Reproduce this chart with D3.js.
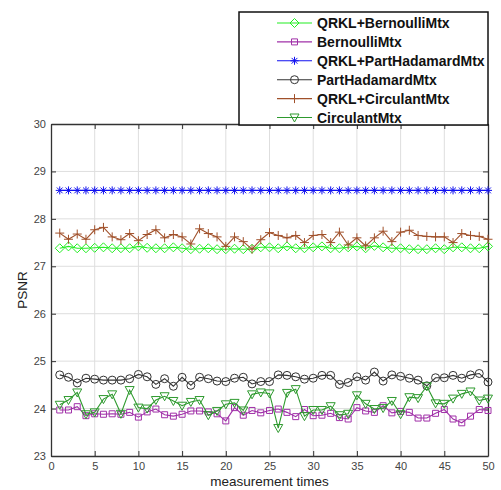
<!DOCTYPE html>
<html lang="en">
<head>
<meta charset="UTF-8">
<title>PSNR</title>
<script src="https://cdn.jsdelivr.net/npm/d3@7"></script>
<style>
  body { margin: 0; background: #fff; }
  text { font-family: "Liberation Sans", Arial, sans-serif; }
</style>
</head>
<body>
<script>
// measurement index 1..50
const times = d3.range(1, 51)

const qrklBernoulli = [27.38, 27.42, 27.38, 27.38, 27.39, 27.40, 27.38, 27.38, 27.38, 27.42,
  27.39, 27.38, 27.38, 27.40, 27.38, 27.36, 27.37, 27.38, 27.36, 27.36,
  27.37, 27.36, 27.37, 27.40, 27.40, 27.38, 27.42, 27.38, 27.38, 27.40,
  27.42, 27.38, 27.38, 27.40, 27.42, 27.38, 27.43, 27.40, 27.38, 27.38,
  27.36, 27.36, 27.36, 27.38, 27.36, 27.40, 27.40, 27.38, 27.38, 27.42]

const bernoulli = [23.97, 23.97, 24.04, 23.85, 23.89, 23.88, 23.89, 23.88, 23.92, 23.82,
  23.93, 23.99, 23.87, 23.84, 23.88, 23.95, 23.95, 23.93, 23.89, 23.74,
  24.02, 23.86, 23.96, 23.91, 23.96, 23.99, 23.92, 23.83, 23.98, 23.85,
  23.86, 23.90, 23.81, 23.78, 24.02, 23.95, 23.92, 24.06, 23.91, 23.94,
  23.92, 23.80, 23.80, 23.90, 23.98, 23.78, 23.70, 23.84, 23.98, 23.96]

const qrklPartHadamard = times.map(() => 28.6)

const partHadamard = [24.71, 24.66, 24.54, 24.64, 24.62, 24.60, 24.60, 24.60, 24.63, 24.72,
  24.67, 24.51, 24.63, 24.47, 24.66, 24.49, 24.66, 24.63, 24.58, 24.57,
  24.64, 24.66, 24.52, 24.57, 24.57, 24.71, 24.70, 24.67, 24.62, 24.64,
  24.70, 24.70, 24.51, 24.55, 24.67, 24.60, 24.77, 24.58, 24.71, 24.68,
  24.64, 24.60, 24.48, 24.65, 24.65, 24.70, 24.64, 24.71, 24.74, 24.56]

const qrklCirculant = [27.70, 27.57, 27.68, 27.57, 27.77, 27.82, 27.62, 27.56, 27.69, 27.54,
  27.67, 27.77, 27.60, 27.67, 27.62, 27.47, 27.79, 27.69, 27.62, 27.42,
  27.62, 27.52, 27.36, 27.56, 27.71, 27.65, 27.60, 27.65, 27.50, 27.65,
  27.67, 27.50, 27.72, 27.45, 27.60, 27.43, 27.60, 27.74, 27.52, 27.72,
  27.76, 27.65, 27.63, 27.62, 27.62, 27.50, 27.69, 27.65, 27.63, 27.57]

const circulant = [24.08, 24.18, 24.34, 23.88, 23.92, 24.20, 24.30, 23.89, 24.39, 24.02,
  24.00, 24.18, 24.26, 24.16, 24.06, 24.14, 24.18, 23.86, 23.95, 24.09,
  24.12, 23.96, 24.30, 24.34, 24.32, 23.59, 24.33, 24.41, 23.84, 23.97,
  23.97, 24.05, 23.86, 23.89, 24.28, 24.10, 23.99, 24.01, 24.16, 23.88,
  24.24, 24.22, 24.47, 24.11, 24.10, 24.21, 24.31, 24.36, 24.17, 24.21]

const seriesNames = ['QRKL+BernoulliMtx', 'BernoulliMtx', 'QRKL+PartHadamardMtx',
  'PartHadamardMtx', 'QRKL+CirculantMtx', 'CirculantMtx']
const seriesValues = [qrklBernoulli, bernoulli, qrklPartHadamard, partHadamard, qrklCirculant, circulant]
const seriesColors = ['#22ee22', '#a030a8', '#1010f0', '#333333', '#a0502a', '#2e9a2e']
const seriesMarkers = ['diamond', 'square', 'star', 'circle', 'plus', 'triangle']

const xTicks = d3.range(0, 51, 5)
const yTicks = d3.range(23, 31, 1)

const w = 501, h = 490
const padL = 51, padR = 488, padT = 124, padB = 456

const svg = d3.select('body').append('svg')
  .attr('width', w)
  .attr('height', h)

const xScale = d3.scaleLinear().domain([0, 50]).range([padL, padR])
const yScale = d3.scaleLinear().domain([23, 30]).range([padB, padT])

// grid
svg.append('g').selectAll('line')
  .data(xTicks.slice(1, -1))
  .enter().append('line')
  .attr('x1', d => xScale(d)).attr('x2', d => xScale(d))
  .attr('y1', padT).attr('y2', padB)
  .attr('stroke', '#dedede').attr('stroke-width', 1)
svg.append('g').selectAll('line')
  .data(yTicks.slice(1, -1))
  .enter().append('line')
  .attr('x1', padL).attr('x2', padR)
  .attr('y1', d => yScale(d)).attr('y2', d => yScale(d))
  .attr('stroke', '#dedede').attr('stroke-width', 1)

// axes, matlab style: ticks inward, box on
const axColor = '#333'
function styleAxis(g) {
  g.select('.domain').attr('stroke', axColor).attr('stroke-width', 1.3)
  g.selectAll('.tick line').attr('stroke', axColor)
  g.selectAll('.tick text')
    .attr('fill', '#444')
    .style('font-size', '11px')
    .style('font-family', '"Liberation Sans", Arial, sans-serif')
}

svg.append('g')
  .attr('transform', 'translate(0,' + padB + ')')
  .call(d3.axisBottom(xScale).tickValues(xTicks).tickFormat(d3.format('d'))
    .tickSizeInner(-5).tickSizeOuter(0).tickPadding(6))
  .call(styleAxis)
svg.append('g')
  .attr('transform', 'translate(0,' + padT + ')')
  .call(d3.axisTop(xScale).tickValues(xTicks).tickSizeInner(-5).tickSizeOuter(0).tickFormat(''))
  .call(styleAxis)
svg.append('g')
  .attr('transform', 'translate(' + padL + ',0)')
  .call(d3.axisLeft(yScale).tickValues(yTicks).tickFormat(d3.format('d'))
    .tickSizeInner(-5).tickSizeOuter(0).tickPadding(5))
  .call(styleAxis)
svg.append('g')
  .attr('transform', 'translate(' + padR + ',0)')
  .call(d3.axisRight(yScale).tickValues(yTicks).tickSizeInner(-5).tickSizeOuter(0).tickFormat(''))
  .call(styleAxis)

// axis titles
svg.append('text')
  .attr('x', (padL + padR) / 2).attr('y', 486)
  .attr('text-anchor', 'middle')
  .attr('fill', '#222')
  .style('font-size', '13.5px')
  .text('measurement times')
svg.append('text')
  .attr('transform', 'translate(27,' + ((padT + padB) / 2) + ') rotate(-90)')
  .attr('text-anchor', 'middle')
  .attr('fill', '#222')
  .style('font-size', '13.5px')
  .text('PSNR')

// marker shapes
function markerPath(type) {
  if (type === 'diamond') return 'M0,-4.5L4.5,0L0,4.5L-4.5,0Z'
  if (type === 'square') return 'M-3,-3H3V3H-3Z'
  if (type === 'star') return 'M-4,0H4M0,-4V4M-2.9,-2.9L2.9,2.9M-2.9,2.9L2.9,-2.9'
  if (type === 'circle') return 'M4,0A4,4 0 1,1 -4,0A4,4 0 1,1 4,0Z'
  if (type === 'plus') return 'M-4.5,0H4.5M0,-4.5V4.5'
  if (type === 'triangle') return 'M-4.5,-3.5H4.5L0,4.5Z'
}

const line = d3.line()
  .x((d, i) => xScale(times[i]))
  .y(d => yScale(d))

seriesValues.forEach((vals, k) => {
  const g = svg.append('g')
  g.append('path')
    .datum(vals)
    .attr('d', line)
    .attr('fill', 'none')
    .attr('stroke', seriesColors[k])
    .attr('stroke-width', 1.1)
  g.selectAll('path.mk')
    .data(vals)
    .enter().append('path')
    .attr('class', 'mk')
    .attr('d', markerPath(seriesMarkers[k]))
    .attr('transform', (d, i) => 'translate(' + xScale(times[i]) + ',' + yScale(d) + ')')
    .attr('fill', 'none')
    .attr('stroke', seriesColors[k])
    .attr('stroke-width', 1)
})

// legend
const lg = svg.append('g')
lg.append('rect')
  .attr('x', 239).attr('y', 12)
  .attr('width', 249).attr('height', 113)
  .attr('fill', '#fff')
  .attr('stroke', '#111')
  .attr('stroke-width', 1.5)
seriesNames.forEach((name, k) => {
  const y = 23 + k * 18.9
  lg.append('line')
    .attr('x1', 277).attr('x2', 312)
    .attr('y1', y).attr('y2', y)
    .attr('stroke', seriesColors[k]).attr('stroke-width', 1.1)
  lg.append('path')
    .attr('d', markerPath(seriesMarkers[k]))
    .attr('transform', 'translate(294.5,' + y + ')')
    .attr('fill', 'none')
    .attr('stroke', seriesColors[k])
  lg.append('text')
    .attr('x', 317).attr('y', y)
    .attr('dy', '0.36em')
    .attr('fill', '#111')
    .style('font-size', '14px')
    .style('font-weight', 'bold')
    .text(name)
})
</script>
</body>
</html>
